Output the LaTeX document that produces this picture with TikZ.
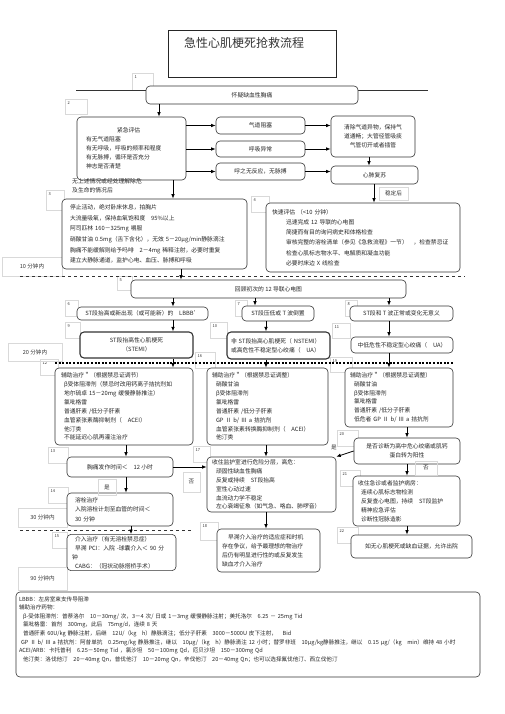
\documentclass[tikz,border=0pt]{standalone}
\usepackage{fontspec}
\setmainfont{Noto Sans CJK SC}
\usetikzlibrary{arrows.meta}
\tikzset{
  box/.style={draw=black!80, line width=0.6pt, rounded corners=4pt, fill=white, text=black!85,
    font=\fontsize{5.8}{8.9}\selectfont, inner sep=2pt},
  boldbox/.style={box, line width=1.1pt},
  arr/.style={-{Latex[length=4.5pt,width=3.6pt]}, line width=0.8pt},
  tag/.style={draw=black!15, line width=0.4pt, font=\fontsize{5.6}{6}\selectfont, text=black!80, inner sep=0pt},
  numtxt/.style={anchor=north west, font=\fontsize{4}{4}\selectfont, inner sep=2.5pt, text=black!80},
  faint/.style={draw=black!15, line width=0.4pt},
  bar/.style={line width=0.5pt, draw=black!80},
}
\begin{document}
\begin{tikzpicture}[x=1pt,y=-1pt]
    \useasboundingbox (0,0) rectangle (505,714);
    \newcommand{\numtag}[6]{\draw[faint] (#2,#3) rectangle ++(#4,#5); \node[numtxt] (#1) at (#2,#3) {#6};}
    % arrow columns
    \coordinate (colS) at (159,0);
    \coordinate (colA) at (173,0);
    \coordinate (colA2) at (181,0);
    \coordinate (colB1) at (255,0);
    \coordinate (colB) at (266,0);
    \coordinate (colC) at (389,0);
    \coordinate (colD) at (407,0);
    \coordinate (colE) at (126,0);
    \coordinate (colF) at (131,0);
    \coordinate (colG) at (369,0);
    \coordinate (colH) at (374,0);
    % step numbers
    \numtag{n1}{132}{73}{21}{17}{1}
    \numtag{n2}{65}{99}{22}{15}{2}
    \numtag{n3}{46}{190}{18}{20}{3}
    \numtag{n4}{251}{196}{18}{16}{4}
    \numtag{n5}{117}{276}{15}{14}{5}
    \numtag{n6}{65}{300}{13}{16}{6}
    \numtag{n7}{235}{300}{12}{16}{7}
    \numtag{n8}{345}{300}{12}{16}{8}
    \numtag{n9}{65}{322}{15}{16}{9}
    \numtag{n10}{210}{322}{17}{16}{10}
    \numtag{n11}{332}{323}{18}{15}{11}
    \numtag{n12}{40}{359}{18}{16}{12}
    \numtag{n16}{195}{352}{20}{16}{16}
    \numtag{n19}{330}{357}{22}{15}{19}
    \numtag{n13}{48}{447}{20}{16}{13}
    \numtag{n17}{193}{446}{17}{16}{17}
    \numtag{n14}{48}{487}{20}{16}{14}
    \numtag{n20}{337}{430}{21}{16}{20}
    \numtag{n21}{340}{470}{20}{16}{21}
    \numtag{n15}{52}{532}{15}{16}{15}
    \numtag{n18}{200}{522}{18}{18}{18}
    \numtag{n22}{337}{527}{21}{16}{22}
    % time marks
    \node[tag, minimum width=60, minimum height=19] (t10) at (32,266.5) {10 分钟内};
    \node[tag, minimum width=54, minimum height=18] (t20) at (35,352) {20 分钟内};
    \node[tag, minimum width=49, minimum height=19] (t30) at (42.5,517.5) {30 分钟内};
    \node[tag, minimum width=49, minimum height=23] (t90) at (42.5,578.5) {90 分钟内};
    \coordinate (d10a) at (20,276);
    \coordinate (d10b) at (465,276);
    \draw[bar, dashed] (d10a) -- (d10b);
    \coordinate (d20a) at (55,363);
    \coordinate (d20b) at (453,363);
    \draw[line width=1.3pt, dash pattern=on 2pt off 1.6pt] (d20a) -- (d20b);
    \coordinate (d30a) at (20,530);
    \coordinate (d30b) at (192,530);
    \draw[bar, dashed] (d30a) -- (d30b);
    % title
    \node[draw=black!85, line width=0.8pt, minimum width=168, minimum height=47] (title) at (252,53.5) {};
    \node[anchor=north west, inner sep=0pt, font=\fontsize{12}{12}\selectfont, text=black!80] (titletext) at (184,37) {急性心肌梗死抢救流程};
    % first steps
    \coordinate (lineL) at (76,90);
    \coordinate (lineR) at (428,90);
    \draw[bar] (lineL) -- (lineR);
    \node[box, minimum width=212, minimum height=18] (suspect) at (252,95) {怀疑缺血性胸痛};
    \node[box, align=left, text width=91, inner xsep=9, minimum height=63] (assess) at (131.5,148.5)
      {\hspace*{31pt}紧急评估\\有无气道阻塞\\有无呼吸，呼吸的频率和程度\\有无脉搏，循环是否充分\\神志是否清楚};
    \node[box, minimum width=89, minimum height=17] (airway) at (260.5,125.5) {气道阻塞};
    \node[box, minimum width=89, minimum height=16] (breath) at (260.5,149) {呼吸异常};
    \node[box, minimum width=89, minimum height=17] (noresp) at (260.5,171.5) {呼之无反应，无脉搏};
    \node[box, align=center, minimum width=84, minimum height=41] (clear) at (373,136.5)
      {清除气道异物，保持气\\道通畅；大管径管吸痰\\气管切开或者插管};
    \node[box, minimum width=87, minimum height=18] (cpr) at (374.5,175) {心肺复苏};
    \node[tag, minimum width=29, minimum height=13] (stable) at (393.5,193.5) {稳定后};
    \node[anchor=north west, inner sep=0pt, align=left, text=black!85, font=\fontsize{5.8}{9.5}\selectfont] (note3) at (72,178)
      {无上述情况或经处理解除危\\及生命的情况后};
    \node[box, align=left, text width=169, inner xsep=8, minimum height=70, font=\fontsize{5.8}{10.6}\selectfont] (initial) at (154.5,234)
      {停止活动，绝对卧床休息，拍胸片\\
       大流量吸氧，保持血氧饱和度\quad 95\%以上\\
       阿司匹林 160－325mg 嚼服\\
       硝酸甘油 0.5mg（舌下含化），无效 5－20μg/min静脉滴注\\
       胸痛不能缓解则给予吗啡\quad 2－4mg 稀释注射，必要时重复\\
       建立大静脉通道，监护心电、血压、脉搏和呼吸};
    \node[box, align=left, text width=182, inner xsep=6, minimum height=69, font=\fontsize{5.8}{10.2}\selectfont] (rapid) at (363,237.5)
      {快速评估 （<10 分钟）\\
       \hspace*{14pt}迅速完成 12 导联的心电图\\
       \hspace*{14pt}简捷而有目的询问病史和体格检查\\
       \hspace*{14pt}审核完整的溶栓清单（参见《急救流程》一节）\quad ，检查禁忌证\\
       \hspace*{14pt}检查心肌标志物水平、电解质和凝血功能\\
       \hspace*{14pt}必要时床边 X 线检查};
    % ECG
    \node[box, minimum width=275, minimum height=18] (review) at (268.5,289) {回顾初次的 12 导联心电图};
    \node[box, minimum width=131, minimum height=13] (ecg6) at (142.5,313.5) {ST段抬高或新出现（或可能新）的\quad LBBB'};
    \node[box, minimum width=72, minimum height=15] (ecg7) at (278,313.5) {ST段压低或 T 波倒置};
    \node[box, minimum width=103, minimum height=15] (ecg8) at (401.5,313.5) {ST段和 T 波正常或变化无意义};
    \node[boldbox, align=center, minimum width=113, minimum height=26] (stemi) at (136.5,345) {ST段抬高性心肌梗死\\（STEMI）};
    \node[boldbox, align=left, text width=95, inner xsep=4, minimum height=27] (nstemi) at (278.5,345.5)
      {非 ST段抬高心肌梗死（ NSTEMI）\\或高危性不稳定型心绞痛（\quad UA）};
    \node[box, minimum width=102, minimum height=16] (ua) at (402,345) {中低危性不稳定型心绞痛（\quad UA）};
    % treatment
    \node[box, align=left, text width=126, inner xsep=6, minimum height=77] (adj12) at (124,406.5)
      {辅助治疗＂（根据禁忌证调节）\\
       \hspace*{3pt}β受体阻滞剂（禁忌时改用钙离子拮抗剂如\\
       \hspace*{3pt}地尔硫卓 15－20mg 缓慢静脉推注）\\
       \hspace*{3pt}氯吡格雷\\
       \hspace*{3pt}普通肝素 /低分子肝素\\
       \hspace*{3pt}血管紧张素酶抑制剂（\quad ACEI）\\
       \hspace*{3pt}他汀类\\
       \hspace*{3pt}不能延迟心肌再灌注治疗};
    \node[box, align=left, text width=111, inner xsep=5, minimum height=77] (adj16) at (267.5,406.5)
      {辅助治疗＂（根据禁忌证调整）\\
       \hspace*{4pt}硝酸甘油\\
       \hspace*{4pt}β受体阻滞剂\\
       \hspace*{4pt}氯吡格雷\\
       \hspace*{4pt}普通肝素 /低分子肝素\\
       \hspace*{4pt}GP Ⅱ b/ Ⅲ a 拮抗剂\\
       \hspace*{4pt}血管紧张素转换酶抑制剂（\quad ACEI）\\
       \hspace*{4pt}他汀类};
    \node[box, align=left, text width=98, inner xsep=5, minimum height=59] (adj19) at (399,397.5)
      {辅助治疗＂（根据禁忌证调整）\\
       \hspace*{4pt}硝酸甘油\\
       \hspace*{4pt}β受体阻滞剂\\
       \hspace*{4pt}氯吡格雷\\
       \hspace*{4pt}普通肝素 /低分子肝素\\
       \hspace*{4pt}低危者 GP Ⅱ b/ Ⅲ a 拮抗剂};
    \node[box, minimum width=106, minimum height=20] (onset) at (120,467) {胸痛发作时间＜\quad 12 小时};
    \node[box, align=left, text width=90, inner xsep=8, minimum height=33, font=\fontsize{5.8}{9.5}\selectfont] (lysis) at (120,509.5)
      {溶栓治疗\\入院溶栓计划至血管的时间＜\\30 分钟};
    \node[box, align=left, text width=99, inner xsep=5, minimum height=35] (pci) at (121.5,552.5)
      {\hspace*{3pt}介入治疗（有无溶栓禁忌症）\\
       \hspace*{3pt}早溯 PCI：入院 -球囊介入＜ 90 分\\
       钟\\
       \hspace*{3pt}CABG：（冠状动脉搭桥手术）};
    \node[box, align=left, text width=119, inner xsep=5, minimum height=55] (icu) at (271.5,484.5)
      {收住监护室进行危险分层，高危：\\
       \hspace*{4pt}顽固性缺血性胸痛\\
       \hspace*{4pt}反复或持续\quad ST段抬高\\
       \hspace*{4pt}室性心动过速\\
       \hspace*{4pt}血流动力学不稳定\\
       \hspace*{4pt}左心衰竭征象（如气急、咯血、肺啰音）};
    \node[box, align=left, text width=93, inner xsep=5, minimum height=43] (early) at (268.5,550.5)
      {\hspace*{6pt}早溯介入治疗的适应症和时机\\
       存在争议，给予最理想的物治疗\\
       后仍有明显进行性的或反复发生\\
       缺血才介入治疗};
    \node[box, align=center, minimum width=106, minimum height=26] (high) at (407,451)
      {是否诊断为高中危心绞痛或肌钙\\蛋白转为阳性};
    \node[box, align=left, text width=97, inner xsep=5, minimum height=50] (ward) at (406.5,501)
      {收住急诊或者监护病房：\\
       \hspace*{3pt}连续心肌标志物检测\\
       \hspace*{3pt}反复查心电图，持续\quad ST段监护\\
       \hspace*{3pt}精神应急评估\\
       \hspace*{3pt}诊断性冠脉造影};
    \node[box, minimum width=121, minimum height=23] (discharge) at (411.5,546.5) {如无心肌梗死或缺血证据，允许出院};
    \node[tag, minimum width=18, minimum height=16] (yes1) at (107,487) {是};
    \node[tag, minimum width=17, minimum height=20] (no1) at (191.5,482) {否};
    \node[tag, draw=none] (yes2) at (334,447) {是};
    \node[tag, minimum width=22, minimum height=14] (no2) at (426,468) {否};
    % notes
    \node[box, align=left, text width=458, inner xsep=3, minimum height=85, font=\fontsize{5.6}{8.6}\selectfont] (notes) at (248,634.5)
      {LBBB：左房室束支传导阻滞\\
       辅助治疗药物：\\
       \hspace*{4pt}β-受体阻滞剂：普萘洛尔\quad 10－30mg/ 次，3－4 次/ 日或 1－3mg 缓慢静脉注射；美托洛尔\quad 6.25 － 25mg Tid\\
       \hspace*{4pt}氯吡格雷：首剂\quad 300mg，此后\quad 75mg/d，连续 8 天\\
       \hspace*{4pt}普通肝素 60U/kg 静脉注射，后继\quad 12U/（kg\quad h）静脉滴注；低分子肝素\quad 3000－5000U 皮下注射，\quad Bid\\
       \hspace*{2pt}GP Ⅱ b/ Ⅲ a 拮抗剂：阿昔单抗\quad 0.25mg/kg 静脉推注，继以\quad 10μg/（kg\quad h）静脉滴注 12 小时；替罗非班\quad 10μg/kg静脉推注，继以\quad 0.15 μg/（kg\quad min）维持 48 小时\\
       ACEI/ARB：卡托普利\quad 6.25－50mg Tid ，氯沙坦\quad 50－100mg Qd，厄贝沙坦\quad 150－300mg Qd\\
       \hspace*{4pt}他汀类：洛伐他汀\quad 20－40mg Qn，普伐他汀\quad 10－20mg Qn，辛伐他汀\quad 20－40mg Qn；也可以选择氟伐他汀、西立伐他汀\\
       \strut};
    % connectors
    \draw[arr] (suspect.south -| colS) -- (assess.north -| colS);
    \draw[arr] (assess.east |- airway) -- (airway.west);
    \draw[arr] (assess.east |- breath) -- (breath.west);
    \draw[arr] (assess.east |- noresp) -- (noresp.west);
    \draw[arr] (airway.east) -- (airway.east -| clear.west);
    \draw[arr] (breath.east) -- (breath.east -| clear.west);
    \draw[arr] (noresp.east) -- (noresp.east -| cpr.west);
    \draw[arr] (clear.south -| colG) -- (cpr.north -| colG);
    \draw[arr] (cpr.south -| colH) -- (rapid.north -| colH);
    \draw[arr] (assess.south -| colA) -- (initial.north -| colA);
    \draw[arr] (initial.south -| colA2) -- (review.north -| colA2);
    \draw[arr] (review.south -| colA) -- (ecg6.north -| colA);
    \draw[arr] (review.south -| colB1) -- (ecg7.north -| colB1);
    \draw[arr] (review.south -| colC) -- (ecg8.north -| colC);
    \draw[arr] (ecg6.south -| colA) -- (stemi.north -| colA);
    \draw[arr] (ecg7.south -| colB) -- (nstemi.north -| colB);
    \draw[arr] (ecg8.south -| colC) -- (ua.north -| colC);
    \draw[arr] (stemi.south -| colA) -- (adj12.north -| colA);
    \draw[arr] (nstemi.south -| colB) -- (adj16.north -| colB);
    \draw[arr] (ua.south -| colC) -- (adj19.north -| colC);
    \draw[arr] (adj12.south -| colE) -- (onset.north -| colE);
    \draw[arr] (onset.south -| colE) -- (lysis.north -| colE);
    \draw[arr] (lysis.south -| colF) -- (pci.north -| colF);
    \draw[arr] (onset.east) -- (onset.east -| icu.west);
    \draw[arr] (adj16.south -| colB) -- (icu.north -| colB);
    \draw[arr] (icu.south -| colB) -- (early.north -| colB);
    \draw[arr] (adj19.south -| colD) -- (high.north -| colD);
    \draw[arr] (high.west) -- (icu.north east);
    \draw[arr] (high.south -| colD) -- (ward.north -| colD);
    \draw[arr] (ward.south -| colD) -- (discharge.north -| colD);
\end{tikzpicture}
\end{document}
